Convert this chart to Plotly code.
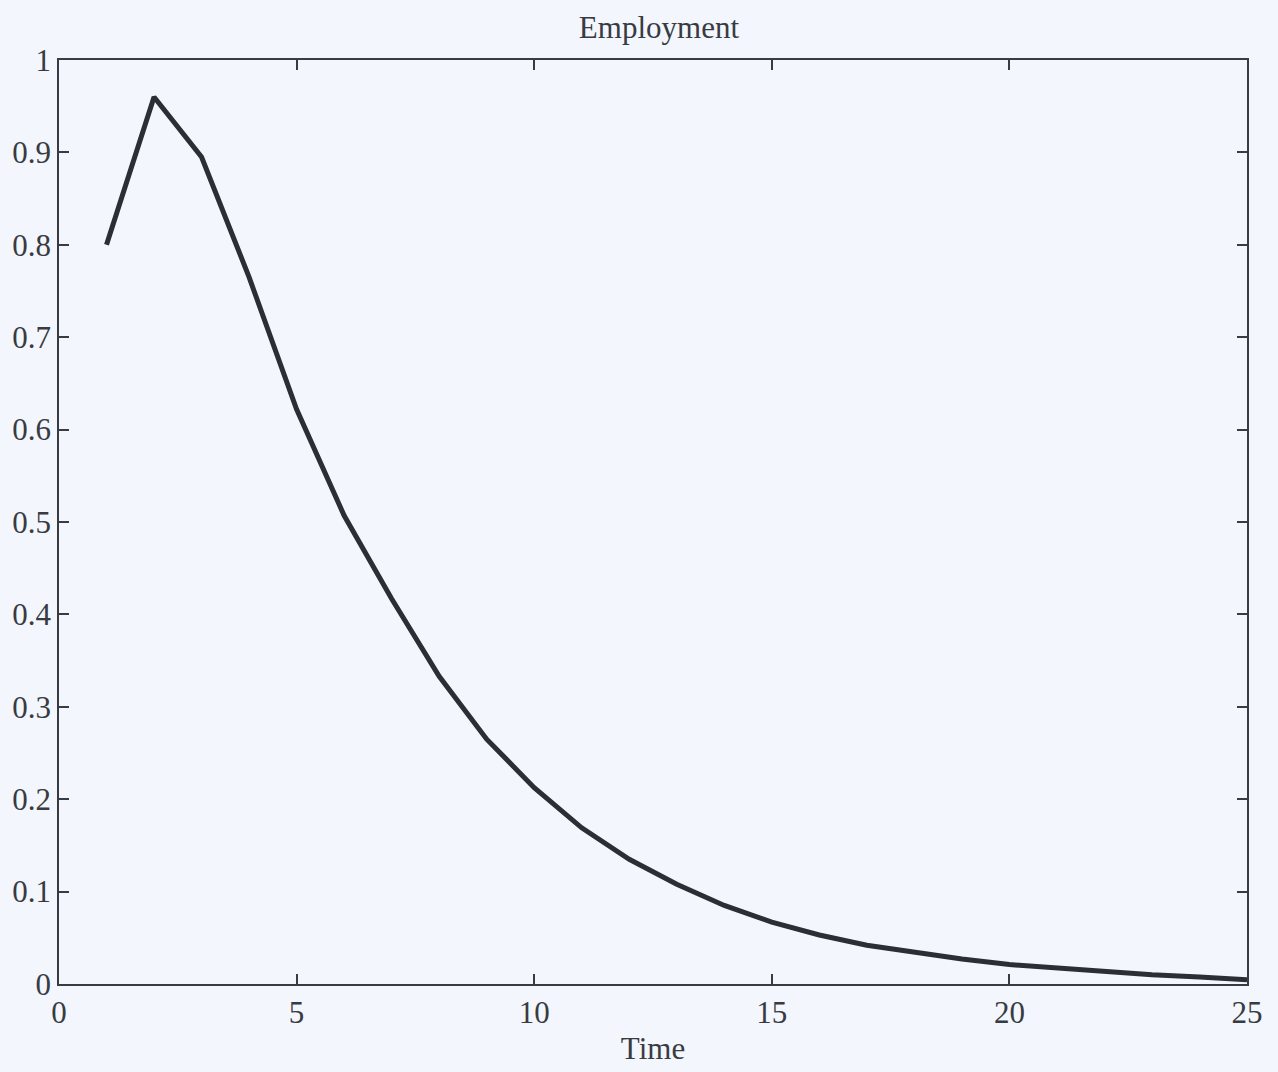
import plotly.graph_objects as go

time = list(range(1, 26))
employment = [0.80, 0.960, 0.895, 0.765, 0.622, 0.507, 0.417, 0.333, 0.265, 0.2125,
              0.169, 0.135, 0.108, 0.085, 0.067, 0.053, 0.042, 0.034, 0.027, 0.021,
              0.017, 0.013, 0.010, 0.0075, 0.0045]

x_ticks = [0, 5, 10, 15, 20, 25]
y_ticks = [0, 0.1, 0.2, 0.3, 0.4, 0.5, 0.6, 0.7, 0.8, 0.9, 1]
y_tick_text = ["0", "0.1", "0.2", "0.3", "0.4", "0.5", "0.6", "0.7", "0.8", "0.9", "1"]

bg = "#f3f6fd"
ink = "#383b42"
font = dict(family="Liberation Serif, Times New Roman, serif", size=31, color=ink)

fig = go.Figure()
fig.add_trace(go.Scatter(x=time, y=employment, mode="lines",
                         line=dict(color="#2b2e35", width=5), showlegend=False))

axis_common = dict(showgrid=False, zeroline=False, showline=True, linecolor=ink,
                   linewidth=1.5, mirror="ticks", ticks="inside", ticklen=10,
                   tickcolor=ink, tickwidth=1.5, tickfont=font)

fig.update_layout(
    width=1278, height=1072,
    margin=dict(l=57, r=31, t=60, b=85),
    paper_bgcolor=bg, plot_bgcolor=bg,
    font=font,
    title=dict(text="Employment", x=0.505, xref="paper", xanchor="center",
               y=0.975, yanchor="middle", font=font),
    xaxis=dict(range=[0, 25], tickvals=x_ticks, ticktext=[str(v) for v in x_ticks],
               title=dict(text="Time", font=font, standoff=8), **axis_common),
    yaxis=dict(range=[0, 1], tickvals=y_ticks, ticktext=y_tick_text, **axis_common),
)

fig.write_html(
    "out.html",
    config={"displayModeBar": False},
    post_script="document.body.style.margin='0';document.body.style.background='#f3f6fd';"
                "document.documentElement.style.background='#f3f6fd';",
)
